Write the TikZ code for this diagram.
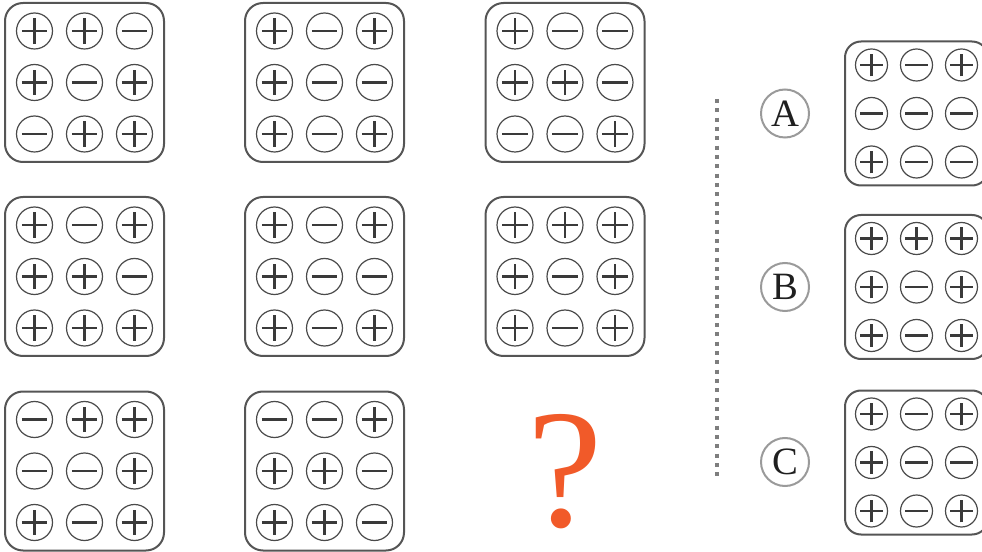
\documentclass[tikz,border=0pt]{standalone}
\usepackage{fontspec}
\setmainfont{Liberation Serif}
\definecolor{boxgray}{HTML}{555555}
\definecolor{circgray}{HTML}{4A4A4A}
\definecolor{signgray}{HTML}{3A3A3A}
\definecolor{labgray}{HTML}{9A9A9A}
\definecolor{dashgray}{HTML}{7E7E7E}
\definecolor{qorange}{HTML}{F15A29}
\tikzset{
  signlen/.store in=\signlen, signlen=9.4pt,
  signline/.style={draw=signgray, line width=2pt},
  gridbox/.style={draw=boxgray, line width=1.5pt, rounded corners=13.5pt, inner sep=0pt},
  optbox/.style={draw=boxgray, line width=1.5pt, rounded corners=12pt, inner sep=0pt},
  bigc/.style={circle, draw=circgray, line width=0.9pt, minimum size=27pt, inner sep=0pt, signlen=9.4pt},
  smallc/.style={circle, draw=circgray, line width=0.9pt, minimum size=24pt, inner sep=0pt, signlen=8.6pt},
  pl/.style={path picture={
    \draw[signline] ([xshift=-\signlen]path picture bounding box.center) -- ([xshift=\signlen]path picture bounding box.center)
      ([yshift=-\signlen]path picture bounding box.center) -- ([yshift=\signlen]path picture bounding box.center);}},
  mi/.style={path picture={
    \draw[signline] ([xshift=-\signlen]path picture bounding box.center) -- ([xshift=\signlen]path picture bounding box.center);}},
  lab/.style={circle, draw=labgray, line width=1.5pt, minimum size=36pt, inner sep=0pt,
    font=\fontsize{29}{29}\selectfont, text=black!88},
  qmark/.style={anchor=base, inner sep=0pt, text=qorange, font=\fontsize{127}{127}\selectfont},
  dashline/.style={draw=dashgray, line width=2.5pt, dash pattern=on 3pt off 4pt}
}
% #1 name, #2 cx, #3 cy, #4 w, #5 h, #6 dx, #7 dy, #8 box+circle styles, #9 signs
\newcommand\signgrid[9]{%
  \node[#8box, minimum width=#4*0.75pt, minimum height=#5*0.75pt] (#1) at (#2,#3) {};
  \foreach \s [count=\i from 0] in {#9} {
    \pgfmathtruncatemacro\gcol{mod(\i,3)}
    \pgfmathtruncatemacro\grow{div(\i,3)}
    \node[#8c, \s] (#1-\grow-\gcol) at ({#2+(\gcol-1)*#6},{#3+(\grow-1)*#7}) {};
  }
}
\tikzset{gbox/.style={gridbox}, obox/.style={optbox}, gc/.style={bigc}, oc/.style={smallc}}
\begin{document}
\begin{tikzpicture}[x=0.75pt,y=-0.75pt]
\useasboundingbox (0,0) rectangle (982,552);
% main grids
\signgrid{g1}{84.5}{82.5}{159}{159}{50}{51.5}{g}{pl,pl,mi,pl,mi,pl,mi,pl,pl}
\signgrid{g2}{324.5}{82.5}{159}{159}{50}{51.5}{g}{pl,mi,pl,pl,mi,mi,pl,mi,pl}
\signgrid{g3}{565}{82.5}{159}{159}{50}{51.5}{g}{pl,mi,mi,pl,pl,mi,mi,mi,pl}
\signgrid{g4}{84.5}{276.5}{159}{159}{50}{51.5}{g}{pl,mi,pl,pl,pl,mi,pl,pl,pl}
\signgrid{g5}{324.5}{276.5}{159}{159}{50}{51.5}{g}{pl,mi,pl,pl,mi,mi,pl,mi,pl}
\signgrid{g6}{565}{276.5}{159}{159}{50}{51.5}{g}{pl,pl,pl,pl,mi,pl,pl,mi,pl}
\signgrid{g7}{84.5}{471}{159}{159}{50}{51.5}{g}{mi,pl,pl,mi,mi,pl,pl,mi,pl}
\signgrid{g8}{324.5}{471}{159}{159}{50}{51.5}{g}{mi,mi,pl,pl,pl,mi,pl,pl,mi}
% question mark
\node[qmark] (q) at (565,526) {?};
% separator
\coordinate (dtop) at (717,99);
\coordinate (dbot) at (717,476);
\draw[dashline] (dtop) -- (dbot);
% options
\node[lab] (la) at (785,113.5) {A};
\node[lab] (lb) at (785,287) {B};
\node[lab] (lc) at (785,462) {C};
\signgrid{oa}{916.5}{113.5}{143}{144}{45}{48.5}{o}{pl,mi,pl,mi,mi,mi,pl,mi,mi}
\signgrid{ob}{916.5}{287}{143}{144}{45}{48.5}{o}{pl,pl,pl,pl,mi,pl,pl,mi,pl}
\signgrid{oc}{916.5}{462.5}{143}{144}{45}{48.5}{o}{pl,mi,pl,pl,mi,mi,pl,mi,pl}
\end{tikzpicture}
\end{document}
